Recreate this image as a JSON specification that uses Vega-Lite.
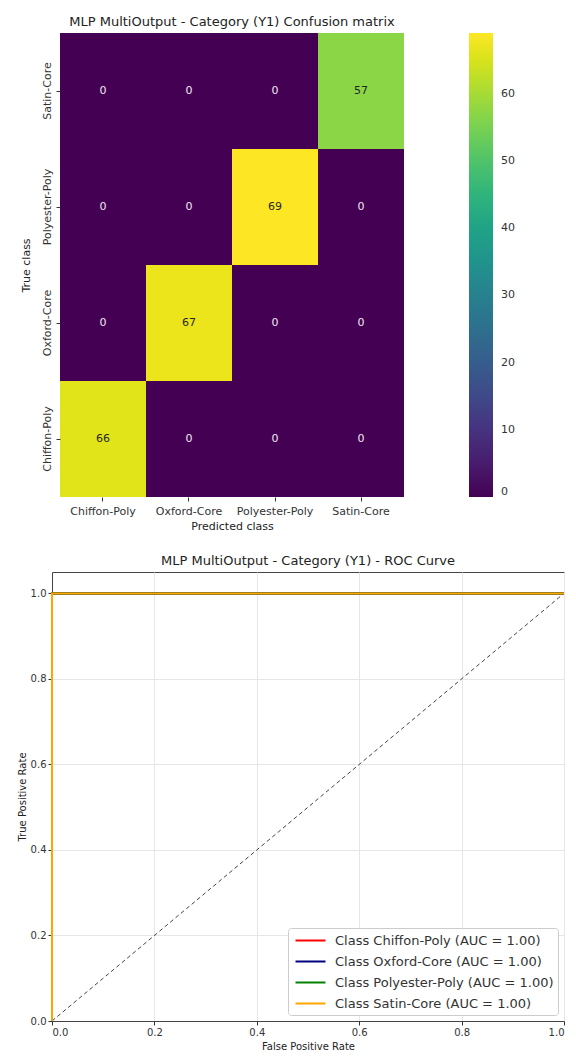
{
  "$schema": "https://vega.github.io/schema/vega-lite/v6.json",
  "padding": {"left": 16, "top": 16, "right": 5, "bottom": 0},
  "background": "white",
  "config": {
    "font": "DejaVu Sans",
    "view": {"stroke": "#444", "strokeWidth": 1},
    "axis": {"labelFontSize": 11, "titleFontSize": 11, "titleFontWeight": "normal", "labelColor": "#333", "titleColor": "#222", "tickColor": "#333", "domainColor": "#444"},
    "title": {"fontSize": 13, "fontWeight": "normal", "color": "#222"}
  },
  "resolve": {"scale": {"color": "independent"}, "legend": {"color": "independent"}},
  "spacing": 23,
  "vconcat": [
    {
      "title": {"text": "MLP MultiOutput - Category (Y1) Confusion matrix", "frame": "group", "anchor": "middle"},
      "width": 360,
      "height": 464,
      "view": {"stroke": null},
      "data": {"values": [
        {"true": "Chiffon-Poly", "pred": "Chiffon-Poly", "count": 66},
        {"true": "Chiffon-Poly", "pred": "Oxford-Core", "count": 0},
        {"true": "Chiffon-Poly", "pred": "Polyester-Poly", "count": 0},
        {"true": "Chiffon-Poly", "pred": "Satin-Core", "count": 0},
        {"true": "Oxford-Core", "pred": "Chiffon-Poly", "count": 0},
        {"true": "Oxford-Core", "pred": "Oxford-Core", "count": 67},
        {"true": "Oxford-Core", "pred": "Polyester-Poly", "count": 0},
        {"true": "Oxford-Core", "pred": "Satin-Core", "count": 0},
        {"true": "Polyester-Poly", "pred": "Chiffon-Poly", "count": 0},
        {"true": "Polyester-Poly", "pred": "Oxford-Core", "count": 0},
        {"true": "Polyester-Poly", "pred": "Polyester-Poly", "count": 69},
        {"true": "Polyester-Poly", "pred": "Satin-Core", "count": 0},
        {"true": "Satin-Core", "pred": "Chiffon-Poly", "count": 0},
        {"true": "Satin-Core", "pred": "Oxford-Core", "count": 0},
        {"true": "Satin-Core", "pred": "Polyester-Poly", "count": 0},
        {"true": "Satin-Core", "pred": "Satin-Core", "count": 57}
      ]},
      "encoding": {
        "x": {"field": "pred", "type": "nominal", "sort": ["Chiffon-Poly", "Oxford-Core", "Polyester-Poly", "Satin-Core"], "title": "Predicted class", "scale": {"paddingInner": 0, "paddingOuter": 0.093}, "axis": {"labelAngle": 0, "domain": false, "grid": false, "tickSize": 4, "labelPadding": 4}},
        "y": {"field": "true", "type": "nominal", "sort": ["Satin-Core", "Polyester-Poly", "Oxford-Core", "Chiffon-Poly"], "title": "True class", "axis": {"labelAngle": -90, "labelAlign": "center", "labelBaseline": "bottom", "domain": false, "grid": false, "tickSize": 4, "labelPadding": 4, "titlePadding": 10, "offset": -8}}
      },
      "layer": [
        {
          "mark": {"type": "rect"},
          "encoding": {
            "color": {"field": "count", "type": "quantitative", "scale": {"scheme": "viridis", "domain": [0, 69], "nice": false}, "legend": {"title": null, "direction": "vertical", "gradientLength": 464, "gradientThickness": 24, "gradientStrokeWidth": 0, "values": [0, 10, 20, 30, 40, 50, 60], "labelFontSize": 11, "labelColor": "#333", "offset": 57, "labelOverlap": false, "labelOffset": 8}}
          }
        },
        {
          "mark": {"type": "text", "fontSize": 11},
          "encoding": {
            "text": {"field": "count", "type": "quantitative"},
            "color": {"condition": {"test": "datum.count > 35", "value": "#262626"}, "value": "#f0e8f0"}
          }
        }
      ]
    },
    {
      "title": {"text": "MLP MultiOutput - Category (Y1) - ROC Curve", "frame": "group", "anchor": "middle"},
      "width": 512,
      "height": 449,
      "encoding": {
        "x": {"field": "fpr", "type": "quantitative", "scale": {"domain": [0, 1], "nice": false}, "title": "False Positive Rate", "axis": {"values": [0, 0.2, 0.4, 0.6, 0.8, 1.0], "format": ".1f", "gridColor": "#e6e6e6", "domain": true, "tickSize": 4, "labelFontSize": 10, "titleFontSize": 10, "titlePadding": 4}},
        "y": {"field": "tpr", "type": "quantitative", "scale": {"domain": [0, 1.05], "nice": false, "zero": false}, "title": "True Positive Rate", "axis": {"values": [0, 0.2, 0.4, 0.6, 0.8, 1.0], "format": ".1f", "gridColor": "#e6e6e6", "domain": true, "tickSize": 4, "labelFontSize": 10, "titleFontSize": 10, "titlePadding": 3}}
      },
      "layer": [
        {
          "data": {"values": [
            {"fpr": 0, "tpr": 0},
            {"fpr": 1, "tpr": 1}
          ]},
          "mark": {"type": "line", "color": "#444", "strokeWidth": 1, "strokeDash": [4, 3]},
          "encoding": {}
        },
        {
          "data": {"values": [
            {"cls": "Class Chiffon-Poly (AUC = 1.00)", "step": 0, "fpr": 0, "tpr": 0},
            {"cls": "Class Chiffon-Poly (AUC = 1.00)", "step": 1, "fpr": 0, "tpr": 1},
            {"cls": "Class Chiffon-Poly (AUC = 1.00)", "step": 2, "fpr": 1, "tpr": 1},
            {"cls": "Class Oxford-Core (AUC = 1.00)", "step": 0, "fpr": 0, "tpr": 0},
            {"cls": "Class Oxford-Core (AUC = 1.00)", "step": 1, "fpr": 0, "tpr": 1},
            {"cls": "Class Oxford-Core (AUC = 1.00)", "step": 2, "fpr": 1, "tpr": 1},
            {"cls": "Class Polyester-Poly (AUC = 1.00)", "step": 0, "fpr": 0, "tpr": 0},
            {"cls": "Class Polyester-Poly (AUC = 1.00)", "step": 1, "fpr": 0, "tpr": 1},
            {"cls": "Class Polyester-Poly (AUC = 1.00)", "step": 2, "fpr": 1, "tpr": 1},
            {"cls": "Class Satin-Core (AUC = 1.00)", "step": 0, "fpr": 0, "tpr": 0},
            {"cls": "Class Satin-Core (AUC = 1.00)", "step": 1, "fpr": 0, "tpr": 1},
            {"cls": "Class Satin-Core (AUC = 1.00)", "step": 2, "fpr": 1, "tpr": 1}
          ]},
          "mark": {"type": "line", "strokeWidth": 2},
          "encoding": {
            "order": {"field": "step", "type": "quantitative"},
            "color": {"field": "cls", "type": "nominal", "scale": {"domain": ["Class Chiffon-Poly (AUC = 1.00)", "Class Oxford-Core (AUC = 1.00)", "Class Polyester-Poly (AUC = 1.00)", "Class Satin-Core (AUC = 1.00)"], "range": ["red", "navy", "green", "orange"]}, "legend": {"title": null, "orient": "bottom-right", "offset": 6, "symbolType": "M-2,0H2", "symbolStrokeWidth": 2, "symbolSize": 225, "symbolOffset": 10, "labelFontSize": 13, "labelLimit": 0, "labelColor": "#333", "fillColor": "white", "strokeColor": "#ccc", "padding": 4, "cornerRadius": 3, "rowPadding": 5, "labelOffset": 16}}
          }
        }
      ]
    }
  ]
}
